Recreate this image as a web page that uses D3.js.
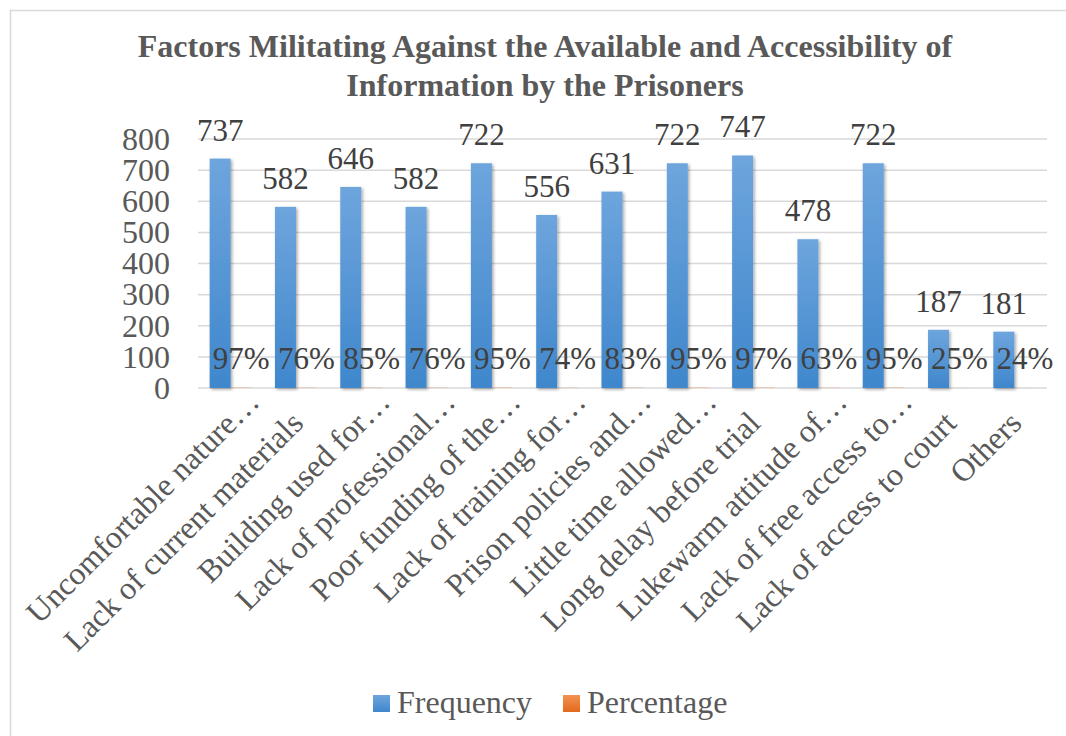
<!DOCTYPE html>
<html>
<head>
<meta charset="utf-8">
<script src="https://cdn.jsdelivr.net/npm/d3@7"></script>
<style>
  html, body { margin: 0; padding: 0; background: #fff; }
  svg { display: block; }
</style>
</head>
<body>
<svg id="chart" width="1066" height="736"></svg>
<script>
const titleLines = ["Factors Militating Against the Available and Accessibility of", "Information by the Prisoners"];
const categories = [
  "Uncomfortable nature\u2026",
  "Lack of current materials",
  "Building used for\u2026",
  "Lack of professional\u2026",
  "Poor funding of the\u2026",
  "Lack of training for\u2026",
  "Prison policies and\u2026",
  "Little time allowed\u2026",
  "Long delay before trial",
  "Lukewarm attitude of\u2026",
  "Lack of free access to\u2026",
  "Lack of access to court",
  "Others"
];
const seriesNames = ["Frequency", "Percentage"];
const frequency = [737, 582, 646, 582, 722, 556, 631, 722, 747, 478, 722, 187, 181];
const percentage = [0.97, 0.76, 0.85, 0.76, 0.95, 0.74, 0.83, 0.95, 0.97, 0.63, 0.95, 0.25, 0.24];
const yTicks = [0, 100, 200, 300, 400, 500, 600, 700, 800];

const svg = d3.select("#chart");
const W = 1066, H = 736;
const plot = { left: 198, right: 1047, top: 139, bottom: 388 };
const serif = "'Liberation Serif', 'Times New Roman', serif";

const defs = svg.append("defs");
const gB = defs.append("linearGradient").attr("id", "gBlue").attr("x1", 0).attr("y1", 0).attr("x2", 0).attr("y2", 1);
gB.append("stop").attr("offset", "0%").attr("stop-color", "#6ea5dd");
gB.append("stop").attr("offset", "100%").attr("stop-color", "#3f87cc");
const gO = defs.append("linearGradient").attr("id", "gOrange").attr("x1", 0).attr("y1", 0).attr("x2", 0).attr("y2", 1);
gO.append("stop").attr("offset", "0%").attr("stop-color", "#f39253");
gO.append("stop").attr("offset", "100%").attr("stop-color", "#e26a1c");
const f = defs.append("filter").attr("id", "shadow").attr("x", "-30%").attr("y", "-10%").attr("width", "160%").attr("height", "120%");
f.append("feDropShadow").attr("dx", 1.5).attr("dy", 1.5).attr("stdDeviation", 1.8).attr("flood-color", "#000").attr("flood-opacity", 0.35);

// chart area border
svg.append("rect").attr("x", 10.5).attr("y", 10.5).attr("width", W + 20).attr("height", H + 20)
  .attr("fill", "#fff").attr("stroke", "#d9d9d9").attr("stroke-width", 1.5);

// title
svg.append("text").attr("x", 545).attr("y", 57)
  .attr("text-anchor", "middle").attr("font-family", serif).attr("font-weight", "bold")
  .attr("font-size", 32).attr("fill", "#595959")
  .selectAll("tspan").data(titleLines).join("tspan")
  .attr("x", 545).attr("dy", (d, i) => i === 0 ? 0 : 39).text(d => d);

const x = d3.scaleBand().domain(categories).range([plot.left, plot.right]).paddingInner(0).paddingOuter(0);
const x1 = d3.scaleBand().domain(seriesNames).range([0, x.bandwidth()]).paddingInner(0).paddingOuter(0.555);
const y = d3.scaleLinear().domain([0, 800]).range([plot.bottom, plot.top]);

// gridlines
svg.append("g").selectAll("line").data(yTicks).join("line")
  .attr("x1", plot.left).attr("x2", plot.right)
  .attr("y1", d => y(d)).attr("y2", d => y(d))
  .attr("stroke", "#d9d9d9").attr("stroke-width", 1.5);

// y axis labels
const yAxis = d3.axisLeft(y).tickValues(yTicks).tickSize(0).tickPadding(0);
const yg = svg.append("g").attr("transform", `translate(170,0)`).call(yAxis);
yg.select(".domain").remove();
yg.selectAll("text").attr("font-family", serif).attr("font-size", 32).attr("fill", "#595959").attr("dy", "0.32em");

const data = categories.map((c, i) => ({ c, f: frequency[i], p: percentage[i] }));

// frequency bars
svg.append("g").selectAll("rect").data(data).join("rect")
  .attr("x", d => x(d.c) + x1("Frequency"))
  .attr("width", x1.bandwidth())
  .attr("y", d => y(d.f))
  .attr("height", d => y(0) - y(d.f))
  .attr("fill", "url(#gBlue)")
  .attr("filter", "url(#shadow)");

// percentage bars (tiny)
svg.append("g").selectAll("rect").data(data).join("rect")
  .attr("x", d => x(d.c) + x1("Percentage"))
  .attr("width", x1.bandwidth())
  .attr("y", d => y(d.p))
  .attr("height", d => Math.max(0, y(0) - y(d.p)))
  .attr("fill", "url(#gOrange)");

// data labels
svg.append("g").selectAll("text").data(data).join("text")
  .attr("x", d => x(d.c) + x1("Frequency") + x1.bandwidth() / 2)
  .attr("y", d => y(d.f) - 18)
  .attr("text-anchor", "middle").attr("font-family", serif).attr("font-size", 31).attr("fill", "#404040")
  .text(d => d.f);
svg.append("g").selectAll("text").data(data).join("text")
  .attr("x", d => x(d.c) + x1("Percentage") + x1.bandwidth() / 2)
  .attr("y", d => y(d.p) - 19)
  .attr("text-anchor", "middle").attr("font-family", serif).attr("font-size", 31).attr("fill", "#404040")
  .text(d => Math.round(d.p * 100) + "%");

// x axis labels
svg.append("g").selectAll("text").data(categories).join("text")
  .attr("transform", d => `translate(${x(d) + x.bandwidth() / 2 + 9},${plot.bottom + 37}) rotate(-45)`)
  .attr("text-anchor", "end").attr("font-family", serif).attr("font-size", 32).attr("fill", "#595959")
  .attr("dx", d => d.endsWith("\u2026") ? "0.95em" : 0)
  .text(d => d);

// legend
const legend = [
  { name: "Frequency", fill: "url(#gBlue)", x: 373, tx: 397 },
  { name: "Percentage", fill: "url(#gOrange)", x: 563, tx: 587 }
];
const lg = svg.append("g");
lg.selectAll("rect").data(legend).join("rect")
  .attr("x", d => d.x).attr("y", 695).attr("width", 17).attr("height", 17).attr("fill", d => d.fill);
lg.selectAll("text").data(legend).join("text")
  .attr("x", d => d.tx).attr("y", 713)
  .attr("font-family", serif).attr("font-size", 32).attr("fill", "#595959")
  .text(d => d.name);
</script>
</body>
</html>
